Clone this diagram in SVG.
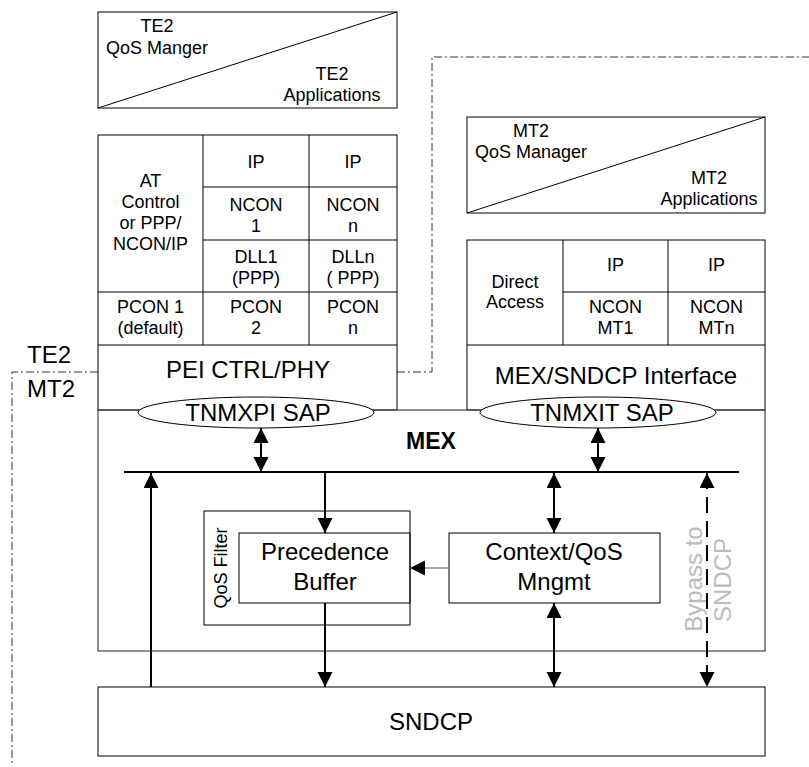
<svg xmlns="http://www.w3.org/2000/svg" width="809" height="767" viewBox="0 0 809 767">
<style>
text{font-family:"Liberation Sans",Arial,sans-serif;fill:#000}
.t18{font-size:18px;text-anchor:middle}
.t24{font-size:24px;text-anchor:middle}
.box{fill:none;stroke:#000;stroke-width:1}
.mex{fill:none;stroke:#444;stroke-width:1.2}
.arr{stroke:#000;stroke-width:2;fill:none}
.dd{stroke:#333;stroke-width:1;fill:none;stroke-dasharray:8 3 2 3}
.gray{fill:#bcbcbc;font-size:24px;text-anchor:middle}
</style>
<defs>
<marker id="ah" markerUnits="userSpaceOnUse" markerWidth="16" markerHeight="16" refX="15" refY="7.5" orient="auto-start-reverse" viewBox="0 0 16 16">
<path d="M0,0 L15,7.5 L0,15 z" fill="#000"/>
</marker>
</defs>

<g id="boundary">
<path class="dd" d="M98,372 H12 V765"/>
<path class="dd" d="M397,372 H432 V57 H809"/>
<text x="27" y="363" style="font-size:24px">TE2</text>
<text x="27" y="397" style="font-size:24px">MT2</text>
</g>

<g id="te2-top">
<rect class="box" x="98" y="12" width="299" height="96"/>
<line class="box" x1="98" y1="108" x2="397" y2="12"/>
<text class="t18" x="157" y="32">TE2</text>
<text class="t18" x="157" y="54">QoS Manger</text>
<text class="t18" x="332" y="80">TE2</text>
<text class="t18" x="332" y="101">Applications</text>
</g>

<g id="mt2-top">
<rect class="box" x="467" y="117" width="298" height="96"/>
<line class="box" x1="467" y1="213" x2="765" y2="117"/>
<text class="t18" x="531" y="137">MT2</text>
<text class="t18" x="531" y="158">QoS Manager</text>
<text class="t18" x="709" y="184">MT2</text>
<text class="t18" x="709" y="205">Applications</text>
</g>

<g id="te2-stack">
<rect class="box" x="98" y="135" width="299" height="275"/>
<line class="box" x1="203" y1="135" x2="203" y2="345"/>
<line class="box" x1="309" y1="135" x2="309" y2="345"/>
<line class="box" x1="203" y1="187" x2="397" y2="187"/>
<line class="box" x1="203" y1="240" x2="397" y2="240"/>
<line class="box" x1="98" y1="292" x2="397" y2="292"/>
<line class="box" x1="98" y1="345" x2="397" y2="345"/>
<text class="t18" x="150.5" y="187">AT</text>
<text class="t18" x="150.5" y="208">Control</text>
<text class="t18" x="150.5" y="229">or PPP/</text>
<text class="t18" x="150.5" y="250">NCON/IP</text>
<text class="t18" x="256" y="168">IP</text>
<text class="t18" x="353" y="168">IP</text>
<text class="t18" x="256" y="211">NCON</text>
<text class="t18" x="256" y="232">1</text>
<text class="t18" x="353" y="211">NCON</text>
<text class="t18" x="353" y="232">n</text>
<text class="t18" x="256" y="263">DLL1</text>
<text class="t18" x="256" y="284">(PPP)</text>
<text class="t18" x="353" y="263">DLLn</text>
<text class="t18" x="353" y="284">( PPP)</text>
<text class="t18" x="150.5" y="313">PCON 1</text>
<text class="t18" x="150.5" y="334">(default)</text>
<text class="t18" x="256" y="313">PCON</text>
<text class="t18" x="256" y="334">2</text>
<text class="t18" x="353" y="313">PCON</text>
<text class="t18" x="353" y="334">n</text>
<text class="t24" x="248" y="378">PEI CTRL/PHY</text>
</g>

<g id="mt2-stack">
<rect class="box" x="467" y="240" width="298" height="170"/>
<line class="box" x1="563" y1="240" x2="563" y2="345"/>
<line class="box" x1="668" y1="240" x2="668" y2="345"/>
<line class="box" x1="563" y1="292" x2="765" y2="292"/>
<line class="box" x1="467" y1="345" x2="765" y2="345"/>
<text class="t18" x="515" y="288">Direct</text>
<text class="t18" x="515" y="308">Access</text>
<text class="t18" x="615.5" y="271">IP</text>
<text class="t18" x="716.5" y="271">IP</text>
<text class="t18" x="615.5" y="313">NCON</text>
<text class="t18" x="615.5" y="334">MT1</text>
<text class="t18" x="716.5" y="313">NCON</text>
<text class="t18" x="716.5" y="334">MTn</text>
<text class="t24" x="616" y="384">MEX/SNDCP Interface</text>
</g>

<g id="mex">
<rect class="mex" x="98" y="410" width="667" height="241"/>
<text x="431" y="449" style="font-size:23px;font-weight:bold;text-anchor:middle">MEX</text>
</g>

<g id="tnmxpi-sap">
<ellipse cx="256" cy="412.5" rx="118" ry="15.5" fill="#fff" stroke="#000" stroke-width="1"/>
<text class="t24" x="258" y="421">TNMXPI SAP</text>
</g>

<g id="tnmxit-sap">
<ellipse cx="598" cy="412.5" rx="118" ry="15.5" fill="#fff" stroke="#000" stroke-width="1"/>
<text class="t24" x="602" y="421">TNMXIT SAP</text>
</g>

<g id="qos-filter">
<rect class="box" x="204" y="511" width="206" height="114" stroke="#333"/>
<text transform="translate(227,568) rotate(-90)" style="font-size:18px;text-anchor:middle">QoS Filter</text>
</g>

<g id="precedence-buffer">
<rect class="box" x="239" y="533" width="171" height="70" fill="#fff"/>
<text class="t24" x="325" y="560">Precedence</text>
<text class="t24" x="325" y="590">Buffer</text>
</g>

<g id="context-qos">
<rect class="box" x="449" y="533" width="211" height="70"/>
<text class="t24" x="554" y="560">Context/QoS</text>
<text class="t24" x="554" y="590">Mngmt</text>
</g>

<g id="bypass-label">
<text class="gray" transform="translate(702,579) rotate(-90)">Bypass to</text>
<text class="gray" transform="translate(731,580) rotate(-90)">SNDCP</text>
</g>

<g id="sndcp">
<rect class="box" x="98" y="687" width="667" height="69"/>
<text class="t24" x="431" y="730">SNDCP</text>
</g>

<g id="connectors">
<line x1="124" y1="472" x2="739" y2="472" stroke="#000" stroke-width="2"/>
<line class="arr" x1="261" y1="428" x2="261" y2="472" marker-start="url(#ah)" marker-end="url(#ah)"/>
<line class="arr" x1="598" y1="428" x2="598" y2="472" marker-start="url(#ah)" marker-end="url(#ah)"/>
<line class="arr" x1="151" y1="687" x2="151" y2="473" marker-end="url(#ah)"/>
<line class="arr" x1="325" y1="473" x2="325" y2="533" marker-end="url(#ah)"/>
<line class="arr" x1="325" y1="603" x2="325" y2="687" marker-end="url(#ah)"/>
<line class="arr" x1="554" y1="473" x2="554" y2="533" marker-start="url(#ah)" marker-end="url(#ah)"/>
<line class="arr" x1="554" y1="603" x2="554" y2="687" marker-start="url(#ah)" marker-end="url(#ah)"/>
<line class="arr" x1="707" y1="473" x2="707" y2="687" stroke-dasharray="16 8" marker-start="url(#ah)" marker-end="url(#ah)"/>
<line x1="449" y1="568" x2="410" y2="568" stroke="#555" stroke-width="1.2" marker-end="url(#ah)"/>
</g>
</svg>
